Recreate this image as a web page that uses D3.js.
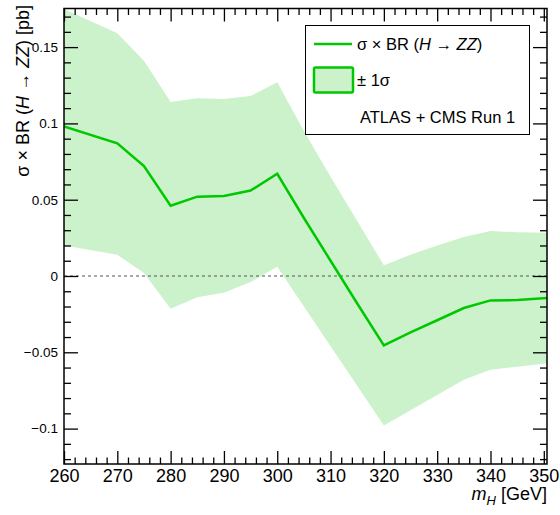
<!DOCTYPE html>
<html>
<head>
<meta charset="utf-8">
<script src="https://cdn.jsdelivr.net/npm/d3@7"></script>
<style>
  body { margin: 0; background: #fff; }
  text { font-family: "Liberation Sans", Arial, sans-serif; fill: #000; }
</style>
</head>
<body>
<div id="chart"></div>
<script>
// values
var mass    = [260, 270, 275, 280, 285, 290, 295, 300, 305, 310, 315, 320, 325, 330, 335, 340, 345, 351];
var central = [0.098, 0.087, 0.072, 0.046, 0.052, 0.0525, 0.056, 0.067, 0.038, 0.010, -0.018, -0.0455, -0.037, -0.029, -0.021, -0.016, -0.0158, -0.0143];
var upper   = [0.175, 0.159, 0.141, 0.114, 0.1165, 0.116, 0.118, 0.127, 0.095, 0.065, 0.036, 0.007, 0.014, 0.020, 0.0255, 0.0295, 0.0287, 0.0283];
var lower   = [0.020, 0.014, 0.002, -0.0215, -0.014, -0.011, -0.004, 0.006, -0.020, -0.046, -0.072, -0.098, -0.088, -0.078, -0.068, -0.0615, -0.0595, -0.057];
var xTicks = [260, 270, 280, 290, 300, 310, 320, 330, 340, 350];
var yTicks = [-0.1, -0.05, 0, 0.05, 0.1, 0.15];

var W = 560, H = 515;
var margin = {top: 8.5, right: 13, bottom: 51, left: 64};
var width = W - margin.left - margin.right,
    height = H - margin.top - margin.bottom;

var svg = d3.select("#chart").append("svg")
    .attr("width", W)
    .attr("height", H);

var g = svg.append("g")
    .attr("transform", "translate(" + margin.left + "," + margin.top + ")");

var x = d3.scaleLinear().domain([260, 350.6]).range([0, width]);
var y = d3.scaleLinear().domain([-0.1232, 0.1753]).range([height, 0]);

var data = mass.map(function (m, i) {
    return {m: m, c: central[i], hi: upper[i], lo: lower[i]};
});

g.append("clipPath").attr("id", "clip")
    .append("rect").attr("width", width).attr("height", height);

var plot = g.append("g").attr("clip-path", "url(#clip)");

// +-1 sigma band
plot.append("path")
    .datum(data)
    .attr("fill", "#ccf2cc")
    .attr("d", d3.area()
        .x(function (d) { return x(d.m); })
        .y0(function (d) { return y(d.lo); })
        .y1(function (d) { return y(d.hi); }));

// zero line
plot.append("line")
    .attr("x1", 0).attr("x2", width)
    .attr("y1", y(0)).attr("y2", y(0))
    .attr("stroke", "#555")
    .attr("stroke-width", 1.2)
    .attr("stroke-dasharray", "3,3");

// central value
plot.append("path")
    .datum(data)
    .attr("fill", "none")
    .attr("stroke", "#00c800")
    .attr("stroke-width", 2.5)
    .attr("d", d3.line()
        .x(function (d) { return x(d.m); })
        .y(function (d) { return y(d.c); }));

// axes, ticks inside on all four sides
var fmtY = function (v) { return v === 0 ? "0" : d3.format("")(+v.toFixed(2)).replace("-", "\u2212"); };
var minorX = d3.range(260, 351, 2).filter(function (v) { return v % 10 !== 0; });
var minorY = d3.range(-12, 18).map(function (v) { return v / 100; }).filter(function (v) { return Math.abs(Math.round(v * 100) % 5) !== 0; });

var axB = g.append("g").attr("transform", "translate(0," + height + ")");
axB.call(d3.axisBottom(x).tickValues(xTicks).tickSizeInner(-13).tickSizeOuter(0).tickPadding(5).tickFormat(d3.format("d")));
axB.append("g").call(d3.axisBottom(x).tickValues(minorX).tickSizeInner(-6.5).tickSizeOuter(0).tickFormat(""));
var axT = g.append("g");
axT.call(d3.axisTop(x).tickValues(xTicks).tickSizeInner(-13).tickSizeOuter(0).tickFormat(""));
axT.append("g").call(d3.axisTop(x).tickValues(minorX).tickSizeInner(-6.5).tickSizeOuter(0).tickFormat(""));

var axL = g.append("g");
axL.call(d3.axisLeft(y).tickValues(yTicks).tickSizeInner(-14).tickSizeOuter(0).tickPadding(5).tickFormat(fmtY));
axL.append("g").call(d3.axisLeft(y).tickValues(minorY).tickSizeInner(-7).tickSizeOuter(0).tickFormat(""));
var axR = g.append("g").attr("transform", "translate(" + width + ",0)");
axR.call(d3.axisRight(y).tickValues(yTicks).tickSizeInner(-14).tickSizeOuter(0).tickFormat(""));
axR.append("g").call(d3.axisRight(y).tickValues(minorY).tickSizeInner(-7).tickSizeOuter(0).tickFormat(""));

g.selectAll(".domain").remove();
g.selectAll(".tick line").attr("stroke", "#000").attr("stroke-width", 1.3);
axB.selectAll(".tick text").style("font-size", "18px").attr("dy", "0.71em");
axL.selectAll(".tick text").style("font-size", "13.5px").attr("dx", "-1");

// frame
g.append("rect")
    .attr("width", width).attr("height", height)
    .attr("fill", "none").attr("stroke", "#000").attr("stroke-width", 1.5);

// axis titles
var xt = g.append("text")
    .attr("x", width).attr("y", height + 36)
    .attr("text-anchor", "end")
    .style("font-size", "18px");
xt.append("tspan").style("font-style", "italic").text("m");
xt.append("tspan").style("font-style", "italic").style("font-size", "13px").attr("dy", 5).text("H");
xt.append("tspan").attr("dy", -5).text(" [GeV]");

var yt = svg.append("text")
    .attr("transform", "translate(29,5) rotate(-90)")
    .attr("text-anchor", "end")
    .style("font-size", "18px");
yt.append("tspan").text("\u03c3 \u00d7 BR (");
yt.append("tspan").style("font-style", "italic").text("H");
yt.append("tspan").text(" \u2192 ");
yt.append("tspan").style("font-style", "italic").text("ZZ");
yt.append("tspan").text(") [pb]");

// legend
var lg = svg.append("g");
lg.append("rect")
    .attr("x", 305.5).attr("y", 25.5).attr("width", 224).attr("height", 109)
    .attr("fill", "#fff").attr("stroke", "#000").attr("stroke-width", 1);
lg.append("line")
    .attr("x1", 314).attr("x2", 352).attr("y1", 44).attr("y2", 44)
    .attr("stroke", "#00c800").attr("stroke-width", 2.5);
lg.append("rect")
    .attr("x", 314).attr("y", 67.5).attr("width", 39).attr("height", 25)
    .attr("rx", 1.5)
    .attr("fill", "#ccf2cc").attr("stroke", "#00c800").attr("stroke-width", 2.5);
var l1 = lg.append("text").attr("x", 357).attr("y", 50).style("font-size", "16.5px");
l1.append("tspan").text("\u03c3 \u00d7 BR (");
l1.append("tspan").style("font-style", "italic").text("H");
l1.append("tspan").text(" \u2192 ");
l1.append("tspan").style("font-style", "italic").text("ZZ");
l1.append("tspan").text(")");
lg.append("text").attr("x", 357).attr("y", 86).style("font-size", "16.5px").text("\u00b1 1\u03c3");
lg.append("text").attr("x", 360).attr("y", 123).style("font-size", "16.5px").text("ATLAS + CMS Run 1");
</script>
</body>
</html>
